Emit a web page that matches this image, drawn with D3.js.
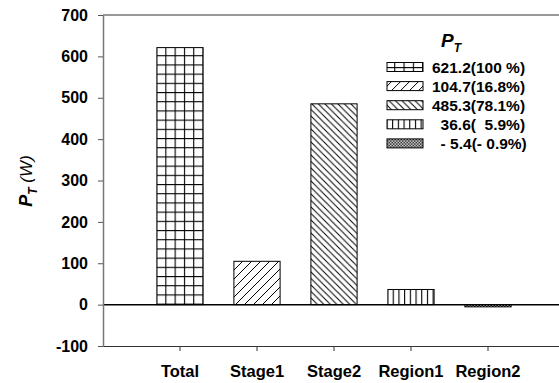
<!DOCTYPE html>
<html>
<head>
<meta charset="utf-8">
<script src="https://cdn.jsdelivr.net/npm/d3@7"></script>
<style>
  body { margin: 0; background: #fff; }
  svg { font-family: "Liberation Sans", Arial, sans-serif; }
</style>
</head>
<body>
<div id="chart"></div>
<script>
var categories = ["Total", "Stage1", "Stage2", "Region1", "Region2"];
var values = [621.2, 104.7, 485.3, 36.6, -5.4];
var legendLabels = ["621.2(100 %)", "104.7(16.8%)", "485.3(78.1%)", "  36.6(  5.9%)", "  - 5.4(- 0.9%)"];
var yTicks = [-100, 0, 100, 200, 300, 400, 500, 600, 700];
var patternIds = ["grid", "fwd", "back", "vert", "dots"];

(function () {
    var W = 559, H = 383;
    var pLeft = 103, pTop = 15, pBottom = 346, pRight = 565;

    var svg = d3.select("#chart").append("svg")
        .attr("width", W)
        .attr("height", H);

    // hatch patterns
    var defs = svg.append("defs");
    var p;
    p = defs.append("pattern").attr("id", "grid").attr("patternUnits", "userSpaceOnUse")
        .attr("width", 9.3).attr("height", 9.2).attr("x", 156).attr("y", 0);
    p.append("rect").attr("width", 9.3).attr("height", 9.2).attr("fill", "#fff");
    p.append("line").attr("x1", 0).attr("y1", 0.5).attr("x2", 9.3).attr("y2", 0.5).attr("stroke", "#000").attr("stroke-width", 1.2);
    p.append("line").attr("x1", 0.5).attr("y1", 0).attr("x2", 0.5).attr("y2", 9.2).attr("stroke", "#000").attr("stroke-width", 1.2);

    p = defs.append("pattern").attr("id", "fwd").attr("patternUnits", "userSpaceOnUse")
        .attr("width", 9).attr("height", 9);
    p.append("rect").attr("width", 9).attr("height", 9).attr("fill", "#fff");
    p.append("path").attr("d", "M-1,1 L1,-1 M0,9 L9,0 M8,10 L10,8").attr("stroke", "#000").attr("stroke-width", 1);

    p = defs.append("pattern").attr("id", "back").attr("patternUnits", "userSpaceOnUse")
        .attr("width", 6.5).attr("height", 6.5);
    p.append("rect").attr("width", 6.5).attr("height", 6.5).attr("fill", "#fff");
    p.append("path").attr("d", "M-1,-1 L7.5,7.5 M5.5,-1 L7.5,1 M-1,5.5 L1,7.5").attr("stroke", "#000").attr("stroke-width", 1);

    p = defs.append("pattern").attr("id", "vert").attr("patternUnits", "userSpaceOnUse")
        .attr("width", 5.7).attr("height", 10).attr("x", 387);
    p.append("rect").attr("width", 5.7).attr("height", 10).attr("fill", "#fff");
    p.append("line").attr("x1", 0.5).attr("y1", 0).attr("x2", 0.5).attr("y2", 10).attr("stroke", "#000").attr("stroke-width", 1.2);

    p = defs.append("pattern").attr("id", "dots").attr("patternUnits", "userSpaceOnUse")
        .attr("width", 3).attr("height", 3);
    p.append("rect").attr("width", 3).attr("height", 3).attr("fill", "#fff");
    p.append("rect").attr("width", 1.5).attr("height", 1.5).attr("fill", "#000");
    p.append("rect").attr("x", 1.5).attr("y", 1.5).attr("width", 1.5).attr("height", 1.5).attr("fill", "#000");

    var x = d3.scaleBand()
        .domain(categories)
        .range([pLeft, pRight])
        .paddingInner(0.4)
        .paddingOuter(0.7);

    var y = d3.scaleLinear()
        .domain([-100, 700])
        .range([pBottom, pTop]);

    // frame top line (right side runs off the picture)
    svg.append("line")
        .attr("x1", pLeft).attr("x2", pRight)
        .attr("y1", pTop).attr("y2", pTop)
        .attr("stroke", "#777").attr("stroke-width", 1.5);

    // bars
    svg.selectAll("rect.bar")
        .data(values)
        .enter()
        .append("rect")
        .attr("class", "bar")
        .attr("x", function(d, i){ return x(categories[i]); })
        .attr("width", x.bandwidth())
        .attr("y", function(d){ return y(Math.max(0, d)); })
        .attr("height", function(d){ return Math.abs(y(d) - y(0)); })
        .attr("fill", function(d, i){ return "url(#" + patternIds[i] + ")"; })
        .attr("stroke", "#000")
        .attr("stroke-width", 1);

    // zero line
    svg.append("line")
        .attr("x1", pLeft).attr("x2", pRight)
        .attr("y1", y(0)).attr("y2", y(0))
        .attr("stroke", "#000").attr("stroke-width", 1.5);

    // y axis
    var yAxis = svg.append("g")
        .attr("transform", "translate(" + pLeft + ",0)")
        .call(d3.axisLeft(y).tickValues(yTicks).tickFormat(function(d){ return String(d); })
            .tickSize(5).tickPadding(10).tickSizeOuter(0));
    yAxis.select(".domain").attr("stroke", "#777").attr("stroke-width", 1.5);
    yAxis.selectAll(".tick line").attr("stroke", "#555");
    yAxis.selectAll(".tick text")
        .attr("font-size", 16)
        .attr("font-weight", "bold")
        .attr("fill", "#000")
        .attr("font-family", "Liberation Sans, Arial, sans-serif");

    // x axis
    var xAxis = svg.append("g")
        .attr("transform", "translate(0," + pBottom + ")")
        .call(d3.axisBottom(x).tickSize(5).tickPadding(14).tickSizeOuter(0));
    xAxis.select(".domain").attr("stroke", "#333").attr("stroke-width", 1.2);
    xAxis.selectAll(".tick line").attr("stroke", "#333");
    xAxis.selectAll(".tick text")
        .attr("font-size", 16.5)
        .attr("font-weight", "bold")
        .attr("fill", "#000")
        .attr("font-family", "Liberation Sans, Arial, sans-serif");

    // y axis title
    var yt = svg.append("text")
        .attr("transform", "translate(32,181) rotate(-90)")
        .attr("text-anchor", "middle");
    yt.append("tspan").attr("font-size", 18).attr("font-weight", "bold").attr("font-style", "italic").text("P");
    yt.append("tspan").attr("font-size", 12).attr("font-weight", "bold").attr("font-style", "italic").attr("dy", 5).text("T");
    yt.append("tspan").attr("font-size", 17).attr("font-style", "italic").attr("dy", -5).text(" (W)");

    // legend
    var lt = svg.append("text").attr("x", 441).attr("y", 47);
    lt.append("tspan").attr("font-size", 19).attr("font-weight", "bold").attr("font-style", "italic").text("P");
    lt.append("tspan").attr("font-size", 12).attr("font-weight", "bold").attr("font-style", "italic").attr("dy", 5).text("T");

    var legend = svg.selectAll("g.legend")
        .data(legendLabels)
        .enter()
        .append("g")
        .attr("class", "legend")
        .attr("transform", function(d, i){ return "translate(387," + (67 + i * 19.1) + ")"; });
    legend.append("rect")
        .attr("x", 0).attr("y", -4.5)
        .attr("width", 36).attr("height", 9)
        .attr("fill", function(d, i){ return "url(#" + patternIds[i] + ")"; })
        .attr("stroke", "#000").attr("stroke-width", 1);
    legend.append("text")
        .attr("x", 45).attr("y", 5.5)
        .attr("font-size", 15.5)
        .attr("font-weight", "bold")
        .style("white-space", "pre")
        .text(function(d){ return d; });
})();
</script>
</body>
</html>
